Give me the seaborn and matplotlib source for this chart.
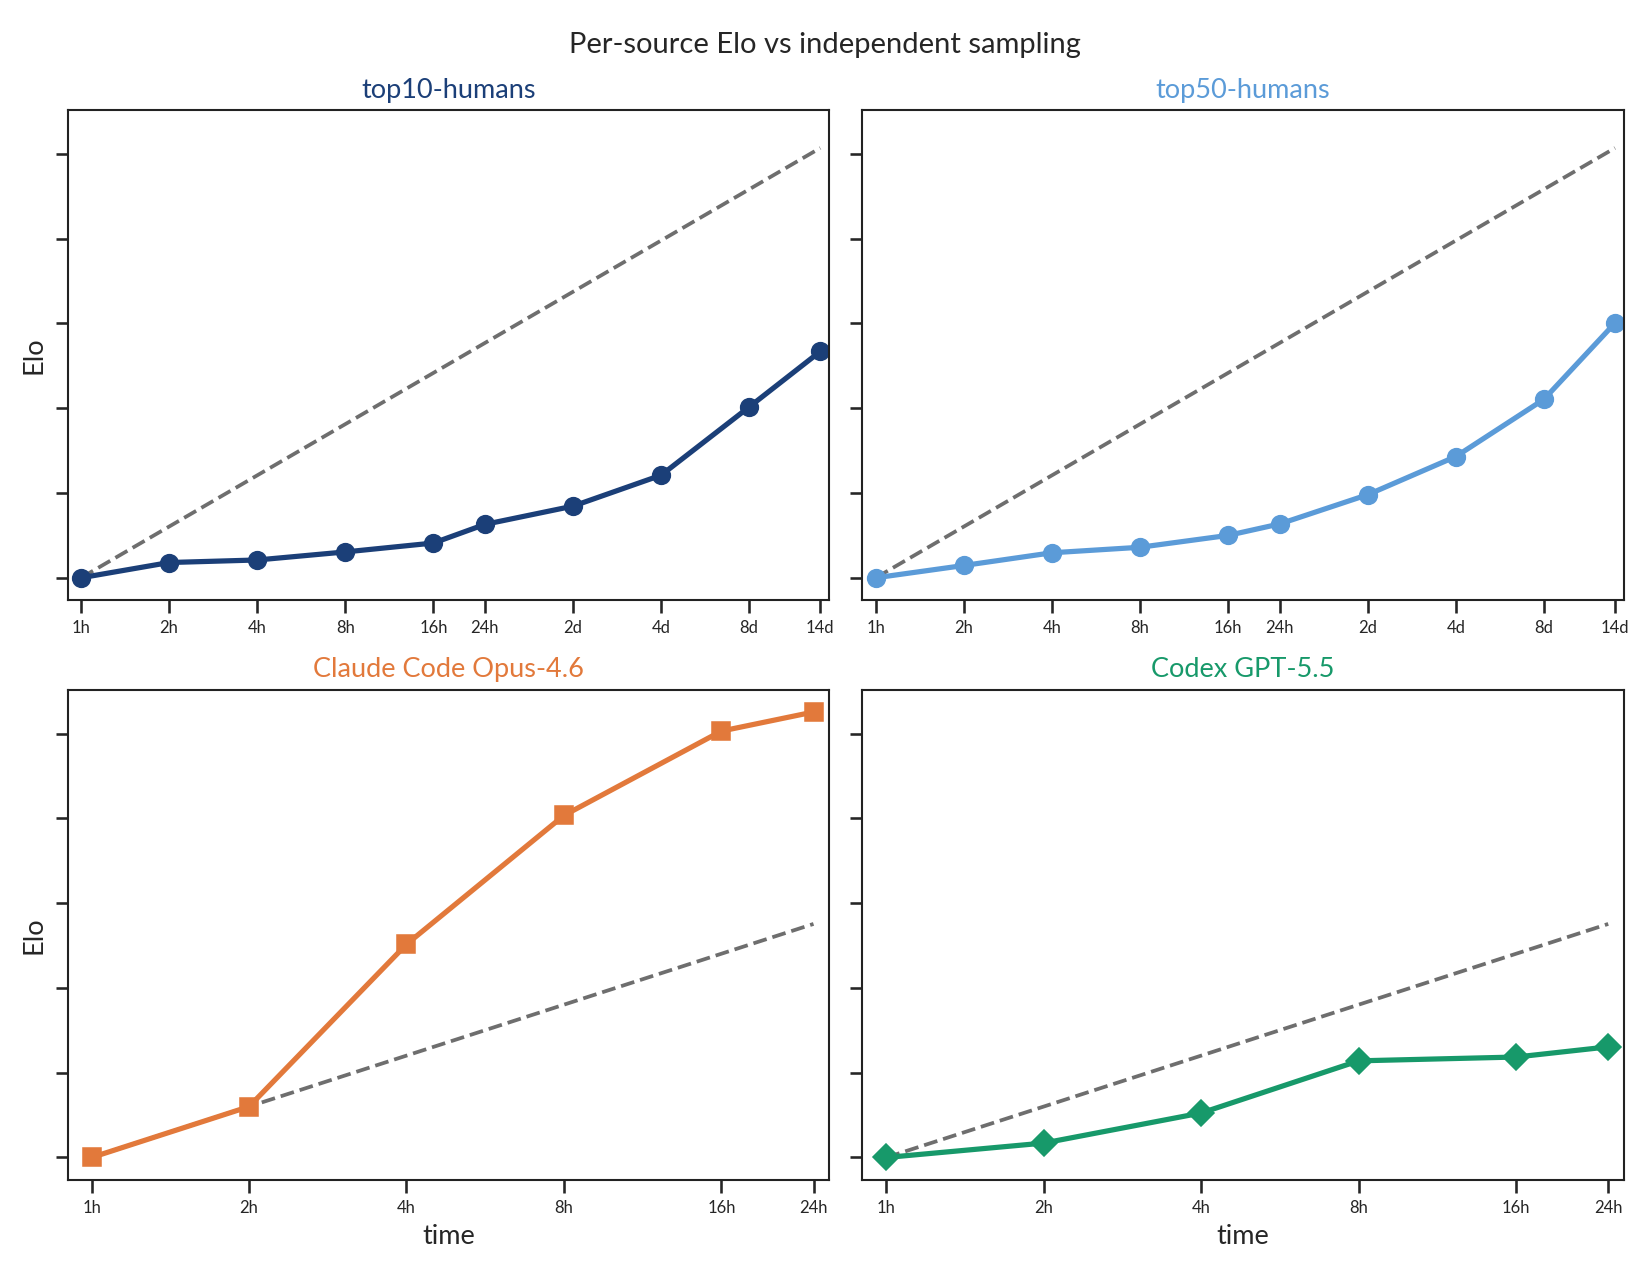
import matplotlib
matplotlib.use("Agg")
import matplotlib.pyplot as plt
import seaborn as sns
import pandas as pd

# horas de cada ponto
horas_humanos = [1, 2, 4, 8, 16, 24, 48, 96, 192, 336]
rotulos_humanos = ["1h", "2h", "4h", "8h", "16h", "24h", "2d", "4d", "8d", "14d"]
horas_agentes = [1, 2, 4, 8, 16, 24]
rotulos_agentes = ["1h", "2h", "4h", "8h", "16h", "24h"]

# Elo (relativo ao ponto de 1h)
elo_top10 = [0, 36, 42, 61, 82, 126, 169, 242, 403, 534]
elo_top50 = [0, 29, 59, 72, 100, 127, 196, 286, 421, 601]
elo_claude = [0, 120, 503, 807, 1006, 1051]
elo_codex = [0, 34, 105, 228, 237, 261]

# amostragem independente (reta em escala log)
indep_humanos_x = [1, 336]
indep_humanos_y = [0, 1014]
indep_agentes_x = [1, 24]
indep_agentes_y = [0, 551]

paineis = [
    ("top10-humans", horas_humanos, elo_top10, rotulos_humanos, "#1b3f78", "o",
     indep_humanos_x, indep_humanos_y),
    ("top50-humans", horas_humanos, elo_top50, rotulos_humanos, "#5b9bd8", "o",
     indep_humanos_x, indep_humanos_y),
    ("Claude Code Opus-4.6", horas_agentes, elo_claude, rotulos_agentes, "#e2793b", "s",
     indep_agentes_x, indep_agentes_y),
    ("Codex GPT-5.5", horas_agentes, elo_codex, rotulos_agentes, "#17996a", "D",
     indep_agentes_x, indep_agentes_y),
]

sns.set_theme(style="ticks")
plt.rcParams["font.family"] = ["Lato", "DejaVu Sans"]
plt.rcParams["axes.edgecolor"] = "#222222"
plt.rcParams["axes.linewidth"] = 1.0

fig, axes = plt.subplots(2, 2, figsize=(11, 8.5), dpi=150, sharey=True)
fig.subplots_adjust(left=0.041, right=0.984, top=0.9137, bottom=0.0747,
                    wspace=0.044, hspace=0.183)

for ax, (titulo, x, y, rotulos, cor, marcador, ix, iy) in zip(axes.flat, paineis):
    sns.lineplot(x=ix, y=iy, ax=ax, color="#6e6e6e", linestyle="--", linewidth=1.8)
    sns.lineplot(x=x, y=y, ax=ax, color=cor, marker=marcador, markersize=8.5,
                 markeredgecolor=cor, linewidth=2.5)
    ax.set_xscale("log")
    ax.set_xticks(x)
    ax.set_xticklabels(rotulos, fontsize=8)
    ax.minorticks_off()
    ax.set_xlim(0.9, x[-1] * 1.07)
    ax.set_yticks([0, 200, 400, 600, 800, 1000])
    ax.tick_params(axis="y", labelleft=False)
    ax.set_title(titulo, color=cor, fontsize=13)
    ax.set_xlabel("")
    ax.set_ylabel("")

for ax in axes[:, 0]:
    ax.set_ylabel("Elo", fontsize=13)
for ax in axes[1, :]:
    ax.set_xlabel("time", fontsize=13)

fig.suptitle("Per-source Elo vs independent sampling", fontsize=14, y=0.975)
plt.savefig("out.png", dpi=150)
plt.close()
